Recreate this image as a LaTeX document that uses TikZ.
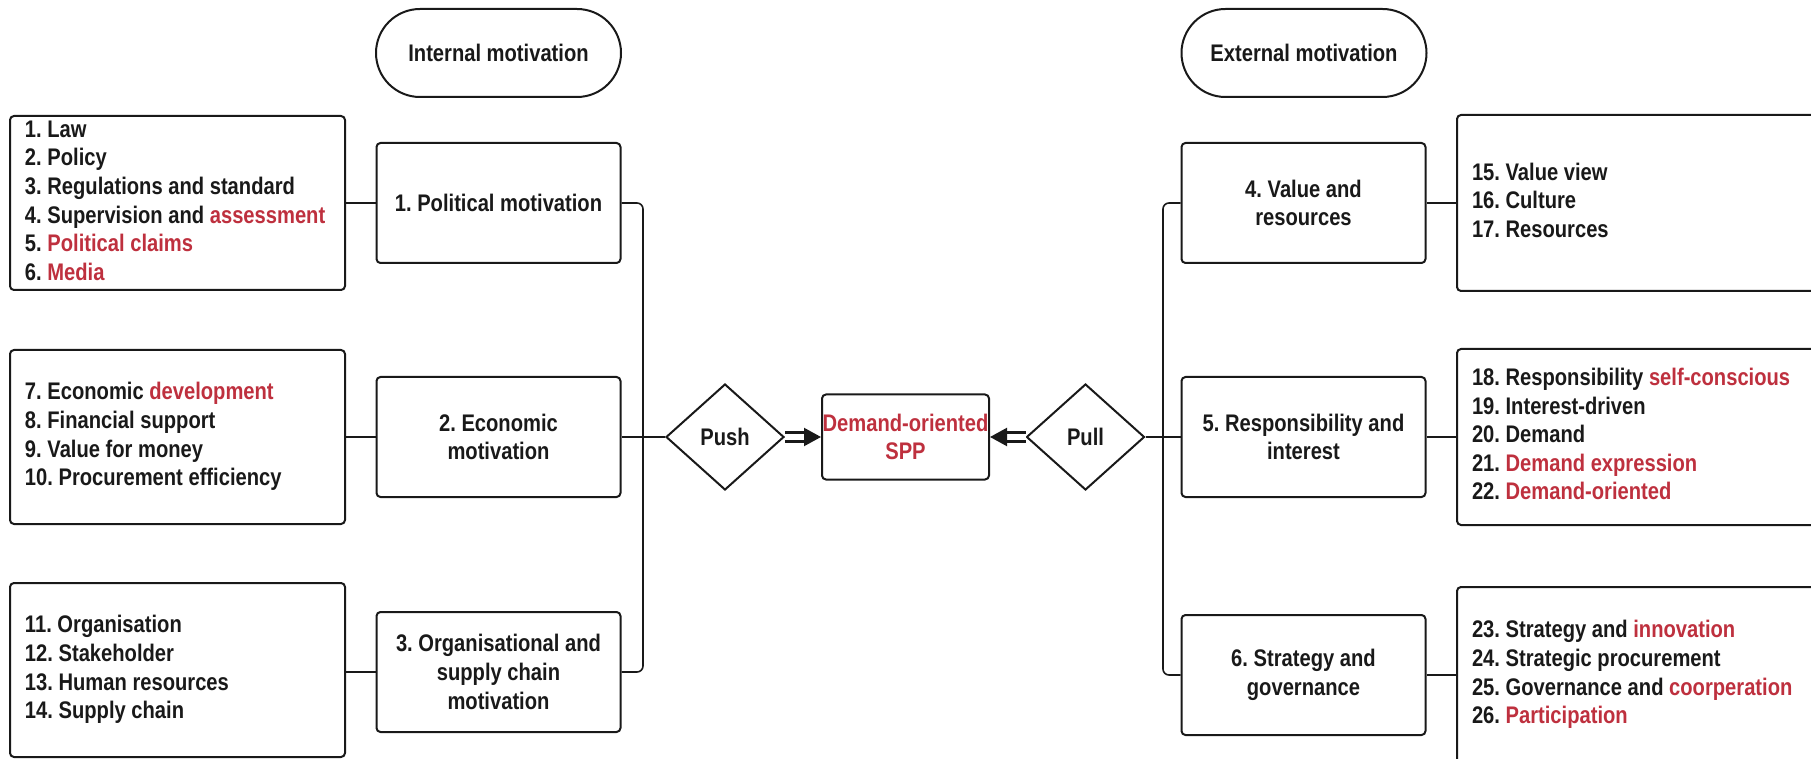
\documentclass[tikz,border=0pt]{standalone}
\usepackage{fontspec}
\setmainfont{Liberation Sans}[FakeStretch=0.84]
\usetikzlibrary{shapes.geometric,arrows.meta}
\definecolor{myred}{RGB}{190,48,62}
\definecolor{ink}{RGB}{25,25,25}
\newcommand{\rd}[1]{\textcolor{myred}{#1}}
\newcommand{\lst}[2]{\makebox[#1][l]{\begin{tabular}{@{}l@{}}#2\end{tabular}}}
\frenchspacing
\begin{document}
\begin{tikzpicture}[x=0.5pt,y=-0.5pt,
  every node/.style={font=\bfseries\fontsize{12}{14.3}\selectfont, text=ink},
  box/.style={draw=ink, line width=1pt, rounded corners=2pt, inner sep=0pt},
  listbox/.style={box, inner xsep=7.5pt, minimum height=87pt},
  rlistbox/.style={box, inner xsep=7.5pt, minimum height=88pt},
  midbox/.style={box, align=center, minimum width=122pt, minimum height=60pt},
  capsule/.style={draw=ink, line width=1pt, rounded corners=22pt, minimum width=122.5pt, minimum height=44pt, inner sep=0pt},
  dia/.style={diamond, draw=ink, line width=1pt, minimum width=59pt, minimum height=53pt, inner sep=0pt},
  conn/.style={draw=ink, line width=0.8pt},
  dbl/.style={draw=ink, line width=1.1pt, double=white, double distance=3.4pt, -{Triangle[length=8.5pt,width=9pt]}}
]
\useasboundingbox (0,0) rectangle (1811,759);
\clip (0,0) rectangle (1811,759);

\node[capsule] (im) at (498.5,53) {Internal motivation};
\node[capsule] (em) at (1304,53) {External motivation};

\node[listbox] (l1) at (177.5,203) {\lst{152.5pt}{1. Law\\2. Policy\\3. Regulations and standard\\4. Supervision and \rd{assessment}\\5. \rd{Political claims}\\6. \rd{Media}}};
\node[listbox] (l2) at (177.5,437) {\lst{152.5pt}{7. Economic \rd{development}\\8. Financial support\\9. Value for money\\10. Procurement efficiency}};
\node[listbox] (l3) at (177.5,670) {\lst{152.5pt}{11. Organisation\\12. Stakeholder\\13. Human resources\\14. Supply chain}};

\node[midbox] (pol) at (498.5,203) {1. Political motivation};
\node[midbox] (eco) at (498.5,437) {2. Economic\\motivation};
\node[midbox] (org) at (498.5,672) {3. Organisational and\\supply chain\\motivation};

\node[dia] (push) at (725,437) {Push};
\node[box, minimum width=83.5pt, minimum height=42.5pt, align=center, text=myred] (dem) at (905.5,437) {Demand-oriented\\SPP};
\node[dia] (pull) at (1085.5,437) {Pull};

\node[midbox] (val) at (1303.5,203) {4. Value and\\resources};
\node[midbox] (res) at (1303.5,437) {5. Responsibility and\\interest};
\node[midbox] (str) at (1303.5,675) {6. Strategy and\\governance};

\node[rlistbox] (r1) at (1648.5,203) {\lst{176.5pt}{15. Value view\\16. Culture\\17. Resources}};
\node[rlistbox] (r2) at (1648.5,437) {\lst{176.5pt}{18. Responsibility \rd{self-conscious}\\19. Interest-driven\\20. Demand\\21. \rd{Demand expression}\\22. \rd{Demand-oriented}}};
\node[rlistbox] (r3) at (1648.5,675) {\lst{176.5pt}{23. Strategy and \rd{innovation}\\24. Strategic procurement\\25. Governance and \rd{coorperation}\\26. \rd{Participation}}};

\coordinate (tl) at (643,437);
\coordinate (tr) at (1163,437);

\draw[conn] (l1.east) -- (pol.west);
\draw[conn] (l2.east) -- (eco.west);
\draw[conn] (l3.east |- org.west) -- (org.west);
\draw[conn, rounded corners=3pt] (pol.east) -| (tl);
\draw[conn, rounded corners=3pt] (org.east) -| (tl);
\draw[conn] (eco.east) -- (push.west);

\draw[conn, rounded corners=3pt] (val.west) -| (tr);
\draw[conn, rounded corners=3pt] (str.west) -| (tr);
\draw[conn] (pull.east) -- (res.west);
\draw[conn] (val.east) -- (r1.west);
\draw[conn] (res.east) -- (r2.west);
\draw[conn] (str.east) -- (r3.west);

\draw[dbl] (push.east) -- (dem.west);
\draw[dbl] (pull.west) -- (dem.east);
\end{tikzpicture}
\end{document}
